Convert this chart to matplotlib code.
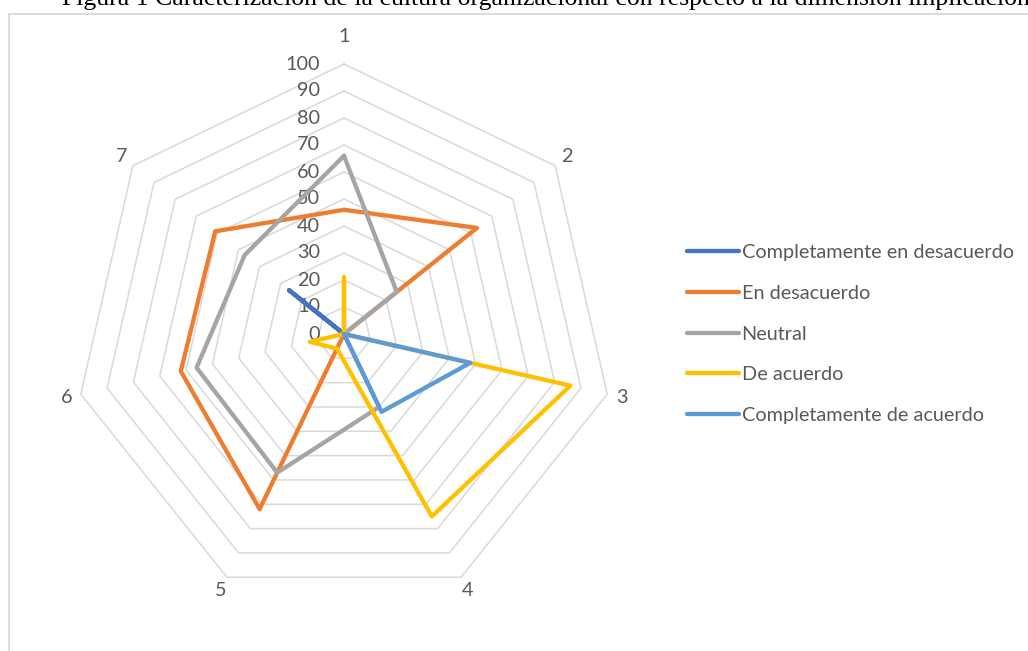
import numpy as np
import matplotlib
matplotlib.use("Agg")
import matplotlib.pyplot as plt
from matplotlib.patches import Rectangle
from matplotlib.transforms import offset_copy

# ---- data ----
categories = ['1', '2', '3', '4', '5', '6', '7']
series_names = ['Completamente en desacuerdo', 'En desacuerdo', 'Neutral',
                'De acuerdo', 'Completamente de acuerdo']
comp_desacuerdo = [0, 0, 0, 0, 0, 0, 26]
en_desacuerdo = [46, 63, 0, 0, 72, 62, 61]
neutral = [66, 25, 0, 30, 57, 56, 47]
de_acuerdo = [21, 0, 86, 75, 6, 13, 0]
comp_acuerdo = [0, 0, 48, 32, 0, 0, 0]
radial_ticks = [0, 10, 20, 30, 40, 50, 60, 70, 80, 90, 100]
title = ("Figura 1 Caracterización de la cultura organizacional con respecto "
         "a la dimensión implicación")

colors = ['#4472C4', '#ED7D31', '#A5A5A5', '#FFC000', '#5B9BD5']
txt_color = '#595959'
grid_color = '#D9D9D9'
FONT = ['Lato', 'DejaVu Sans']
FS = 14.3

W, H = 1028, 651
fig = plt.figure(figsize=(W / 100, H / 100), dpi=100)
fig.patch.set_facecolor('white')

# frame of chart area
fig.patches.append(Rectangle((9 / W, -0.1), 1.2, 1 - 13.5 / H + 0.1,
                             transform=fig.transFigure, fill=False,
                             edgecolor=grid_color, linewidth=1.3))

# title (clipped at top in reference)
fig.text(62 / W, 1 - 5 / H, title, family=['Liberation Serif'], fontsize=18.5,
         color='black', ha='left', va='baseline')

cx, cy, R = 344, 334, 270
ax = fig.add_axes([(cx - R) / W, (H - cy - R) / H, 2 * R / W, 2 * R / H],
                  projection='polar')
ax.set_theta_zero_location('N')
ax.set_theta_direction(-1)
ax.set_ylim(0, 100)
ax.set_xticks([])
ax.set_yticks([])
ax.grid(False)
ax.spines['polar'].set_visible(False)
ax.patch.set_alpha(0)

n = len(categories)
theta = np.arange(n) * 2 * np.pi / n
theta_c = np.append(theta, theta[0])

# heptagon grid
for r in radial_ticks[1:]:
    ax.plot(theta_c, [r] * (n + 1), color=grid_color, lw=1.1, zorder=1,
            clip_on=False)

# radial tick labels
tr = offset_copy(ax.transData, fig=fig, x=-24, y=0, units='dots')
for r in radial_ticks:
    ax.text(0, r, str(r), transform=tr, ha='right', va='center',
            color=txt_color, fontsize=FS, family=FONT)

# category labels
for i, (t, c) in enumerate(zip(theta, categories)):
    rr = 110 if i == 0 else 105.5
    ax.text(t, rr, c, ha='center', va='center', color=txt_color,
            fontsize=FS, family=FONT)

# series
all_series = [comp_desacuerdo, en_desacuerdo, neutral, de_acuerdo, comp_acuerdo]
for k, (vals, name, col) in enumerate(zip(all_series, series_names, colors)):
    v = np.append(vals, vals[0])
    ax.plot(theta_c, v, color=col, lw=3.1, label=name, zorder=3 + k,
            solid_joinstyle='round', solid_capstyle='round', clip_on=False)

handles, labels = ax.get_legend_handles_labels()
leg = fig.legend(handles, labels, loc='center left',
                 bbox_to_anchor=(687 / W, 1 - 334 / H), frameon=False,
                 handlelength=2.6, handletextpad=0.15, labelspacing=1.2,
                 borderpad=0, borderaxespad=0,
                 prop={'family': FONT, 'size': FS})
for t in leg.get_texts():
    t.set_color(txt_color)

fig.savefig('out.png', dpi=100)
